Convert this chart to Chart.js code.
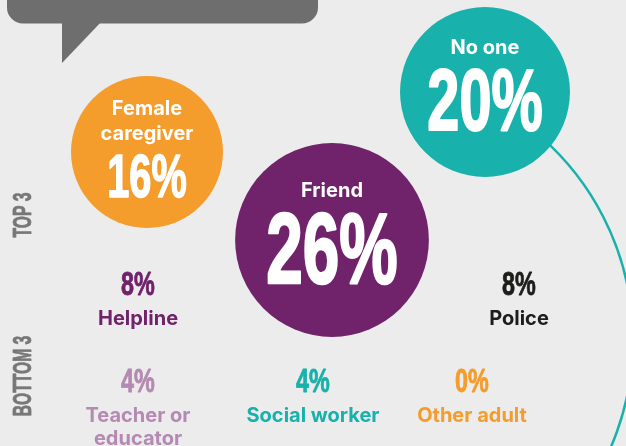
<!DOCTYPE html>
<html>
<head>
<meta charset="utf-8">
<title>Who they told</title>
<script src="https://cdn.jsdelivr.net/npm/chart.js@4.4.1/dist/chart.umd.min.js"></script>
<style>
	html, body { margin: 0; padding: 0; background: #ececec; }
	canvas { display: block; }
</style>
</head>
<body>
<canvas id="tell-chart" width="626" height="446"></canvas>
<script>
// top three, drawn as circles sized by share
var topNames = [["Female", "caregiver"], ["Friend"], ["No one"]];
var topValues = [16, 26, 20];
var topColors = ["#f49c2c", "#70226a", "#18b1ab"];

// everyone else, drawn as plain figures
var otherNames = [["Helpline"], ["Police"], ["Teacher or", "educator"], ["Social worker"], ["Other adult"]];
var otherValues = [8, 8, 4, 4, 0];
var otherColors = ["#70226a", "#1d1d1b", "#b48ab2", "#18b1ab", "#f49c2c"];

var rowLabels = ["TOP 3", "BOTTOM 3"];

// where things sit on the 626 x 446 layout grid
var topSpots = [[147, 152], [332, 240], [485, 92]];
var otherSpots = [[138, 283], [519, 283], [138, 380], [313, 380], [472, 380]];
var rowSpots = [[22, 215], [22, 376]];

var W = 626, H = 446;
var NAME_FONT = "700 20px Inter, 'Open Sans', sans-serif";

// circle area follows the share
function bubbleRadius(v) {
	return 19 * Math.sqrt(v);
}

// bubble charts pad the plot by the biggest radius, so widen the
// scale ranges by the same amount to keep 1 unit = 1 pixel
var pad = bubbleRadius(Math.max.apply(null, topValues));

// tall squeezed heavy figures like the poster type
function drawFigure(ctx, text, x, y, cap, color, squeeze) {
	var size = cap / 0.716;
	ctx.font = "bold " + size + "px 'Liberation Sans Narrow', 'Liberation Sans', Arial, sans-serif";
	var sx = 0.456 * size * squeeze / ctx.measureText("0").width;
	ctx.save();
	ctx.translate(x, y);
	ctx.scale(sx, 1);
	ctx.fillStyle = color;
	ctx.strokeStyle = color;
	ctx.lineWidth = Math.max(0.8, cap * 0.035);
	ctx.lineJoin = "round";
	ctx.textAlign = "center";
	ctx.textBaseline = "alphabetic";
	ctx.fillText(text, 0, cap / 2);
	ctx.strokeText(text, 0, cap / 2);
	ctx.restore();
}

function drawName(ctx, text, x, baseline, color) {
	ctx.font = NAME_FONT;
	ctx.fillStyle = color;
	ctx.textAlign = "center";
	ctx.textBaseline = "alphabetic";
	ctx.fillText(text, x, baseline);
}

// speech bubble and the thin ring behind the circles
var backdrop = {
	id: "backdrop",
	beforeDatasetsDraw: function(chart) {
		var ctx = chart.ctx;
		var xs = chart.scales.x, ys = chart.scales.y;
		ctx.save();
		ctx.fillStyle = "#6e6e6e";
		ctx.beginPath();
		ctx.roundRect(xs.getPixelForValue(7), ys.getPixelForValue(-40), 311, 63.5, 16);
		ctx.fill();
		ctx.beginPath();
		ctx.moveTo(xs.getPixelForValue(62), ys.getPixelForValue(20));
		ctx.lineTo(xs.getPixelForValue(103), ys.getPixelForValue(20));
		ctx.lineTo(xs.getPixelForValue(62), ys.getPixelForValue(63));
		ctx.closePath();
		ctx.fill();

		ctx.strokeStyle = "#18b1ab";
		ctx.lineWidth = 2.5;
		ctx.beginPath();
		ctx.arc(xs.getPixelForValue(363), ys.getPixelForValue(340), 270, -0.85, 0.75);
		ctx.stroke();
		ctx.restore();
	}
};

// names, percentages and row tags
var figures = {
	id: "figures",
	afterDatasetsDraw: function(chart) {
		var ctx = chart.ctx;
		var xs = chart.scales.x, ys = chart.scales.y;

		chart.getDatasetMeta(0).data.forEach(function(el, i) {
			var names = topNames[i];
			var n = names.length;
			var r = el.options.radius;
			var numCap = r * (n > 1 ? 0.57 : 0.74);
			var lead = n > 1 ? 3 : 7;
			var blockH = 14 + (n - 1) * 25 + 14 + numCap;
			var top = el.y - lead - blockH / 2;
			names.forEach(function(line, j) {
				drawName(ctx, line, el.x, top + 14 + j * 25, "#ffffff");
			});
			drawFigure(ctx, topValues[i] + "%", el.x, top + 14 + (n - 1) * 25 + 14 + numCap / 2, numCap, "#ffffff", 0.8);
		});

		chart.getDatasetMeta(1).data.forEach(function(el, i) {
			drawFigure(ctx, otherValues[i] + "%", el.x, el.y, 24, otherColors[i], 0.85);
			otherNames[i].forEach(function(line, j) {
				drawName(ctx, line, el.x, el.y + 41.5 + j * 23, otherColors[i]);
			});
		});

		rowLabels.forEach(function(label, i) {
			ctx.save();
			ctx.translate(xs.getPixelForValue(rowSpots[i][0]), ys.getPixelForValue(rowSpots[i][1]));
			ctx.rotate(-Math.PI / 2);
			drawFigure(ctx, label, 0, 0, 18, "#777777", 0.76);
			ctx.restore();
		});
	}
};

var topData = topValues.map(function(v, i) {
	return { x: topSpots[i][0], y: topSpots[i][1], r: bubbleRadius(v) };
});
var otherData = otherValues.map(function(v, i) {
	return { x: otherSpots[i][0], y: otherSpots[i][1], r: 0 };
});

var tellChart = new Chart(document.getElementById("tell-chart"), {
	type: "bubble",
	data: {
		datasets: [
			{
				label: "Top 3",
				data: topData,
				backgroundColor: topColors,
				borderWidth: 0,
				hoverRadius: 0,
				clip: false
			},
			{
				label: "Others",
				data: otherData,
				pointStyle: false,
				backgroundColor: "transparent",
				borderWidth: 0,
				hoverRadius: 0,
				clip: false
			}
		]
	},
	options: {
		responsive: false,
		animation: false,
		events: [],
		layout: { padding: 0 },
		scales: {
			x: { type: "linear", min: pad, max: W - pad, display: false },
			y: { type: "linear", min: pad, max: H - pad, reverse: true, display: false }
		},
		plugins: {
			legend: { display: false },
			tooltip: { enabled: false }
		}
	},
	plugins: [backdrop, figures]
});
</script>
</body>
</html>
